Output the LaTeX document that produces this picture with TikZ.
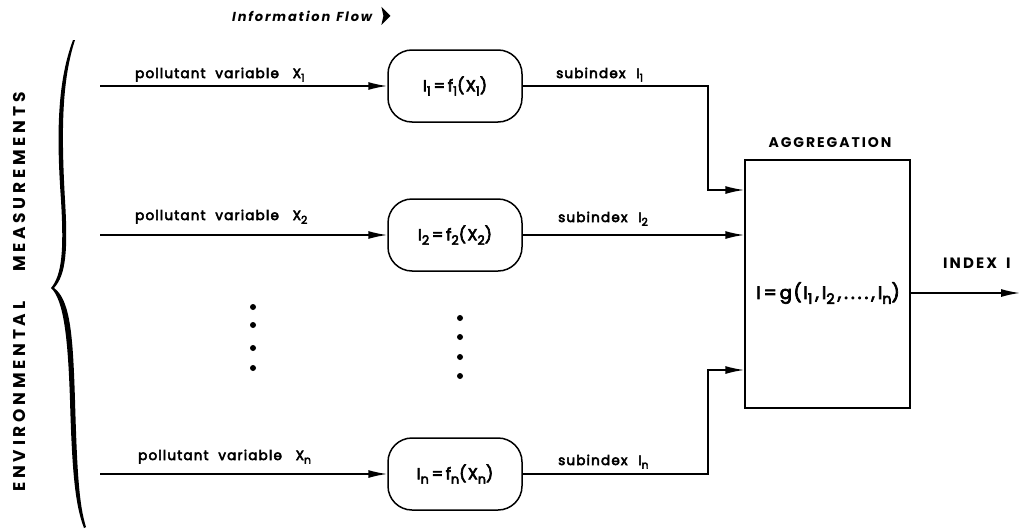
\documentclass[tikz,border=0pt]{standalone}
\usepackage{fontspec}
\setmainfont{Poppins}
\newfontfamily\lett[LetterSpace=9,FakeBold=4]{Poppins}
\newfontfamily\capsfont[LetterSpace=14]{Poppins}
\usetikzlibrary{arrows.meta}
% lowered, reduced index
\newcommand\lo[1]{\raisebox{-0.5ex}{\scalebox{0.8}{#1}}}
\begin{document}
\begin{tikzpicture}[x=1pt,y=-1pt,
  flow/.style={line width=1.5pt,-{Latex[length=19pt,width=8pt]}},
  fbox/.style={draw,line width=1.5pt,rounded corners=24pt,minimum width=134pt,minimum height=72pt,inner sep=0pt,font=\lett\fontsize{16}{18}\selectfont},
  lbl/.style={inner sep=0pt,font=\lett\fontsize{13.5}{15}\selectfont},
  captext/.style={inner sep=0pt,font=\capsfont\bfseries\fontsize{14}{16}\selectfont},
  dot/.style={circle,fill,inner sep=0pt,minimum size=6pt}]
\useasboundingbox (0,0) rectangle (1020,530);

% title
\node[inner sep=0pt,anchor=base west,font=\capsfont\itshape\bfseries\fontsize{13}{15}\selectfont] (title) at (232,21) {Information\hspace{6pt}Flow};
\fill ([xshift=9pt]title.east) ++(0,-9) -- ++(9,9) -- ++(-9,9) -- ++(2,-9) -- cycle;

% side brace and caption
\fill (73,40) .. controls (58,80) and (56,130) .. (61,200)
  .. controls (64,250) and (62,275) .. (51,288)
  .. controls (64,300) and (68,340) .. (70,400)
  .. controls (72,470) and (75,505) .. (84,528)
  -- (86,527) .. controls (79,505) and (77,470) .. (75,400)
  .. controls (73,340) and (71,300) .. (54,288)
  .. controls (66,275) and (68,250) .. (65,200)
  .. controls (61,130) and (62,80) .. (75,40) -- cycle;
\node[inner sep=0pt,font=\capsfont\bfseries\fontsize{17}{19}\selectfont,rotate=90] (env) at (20,292)
  {\addfontfeature{LetterSpace=22}ENVIRONMENTAL\hspace{30pt}MEASUREMENTS};

% subindex functions
\node[fbox] (f1) at (455,86) {I\lo{1}\,=\,f\lo{1}(X\lo{1})};
\node[fbox] (f2) at (455,235) {I\lo{2}\,=\,f\lo{2}(X\lo{2})};
\node[fbox] (fn) at (455,474) {I\lo{n}\,=\,f\lo{n}(X\lo{n})};

% aggregation block
\node[draw,line width=1.5pt,minimum width=165pt,minimum height=248pt,inner sep=0pt] (agg) at (827.5,284) {};
\node[inner sep=0pt,font=\lett\fontsize{18}{20}\selectfont] (g) at (828,293) {I\,=\,g(I\lo{1}\,,\,I\lo{2}\,,\,.\,.\,.\,.\,,\,I\lo{n})};
\node[captext] (aggt) at (830,143) {AGGREGATION};

% inputs
\coordinate (x1) at (100,86);
\coordinate (x2) at (100,235);
\coordinate (xn) at (100,474);
\draw[flow] (x1) -- (f1.west);
\draw[flow] (x2) -- (f2.west);
\draw[flow] (xn) -- (fn.west);
\node[lbl,anchor=base west] (l1) at (135,78) {pollutant\hspace{5pt} variable\hspace{9pt} X\lo{1}};
\node[lbl,anchor=base west] (l2) at (135,220) {pollutant\hspace{5pt} variable\hspace{9pt} X\lo{2}};
\node[lbl,anchor=base west] (ln) at (138,460) {pollutant\hspace{5pt} variable\hspace{9pt} X\lo{n}};

% subindices into the aggregation
\coordinate (k1) at (708,190);
\coordinate (kn) at (708,370);
\draw[flow] (f1.east) -| (k1) -- (k1 -| agg.west);
\draw[flow] (f2.east) -- (f2.east -| agg.west);
\draw[flow] (fn.east) -| (kn) -- (kn -| agg.west);
\node[lbl,anchor=base west] (s1) at (556,78) {subindex\hspace{6pt} I\lo{1}};
\node[lbl,anchor=base west] (s2) at (558,222) {subindex\hspace{6pt} I\lo{2}};
\node[lbl,anchor=base west] (sn) at (558,465) {subindex\hspace{6pt} I\lo{n}};

% output
\coordinate (out) at (1020,293);
\draw[flow] (agg.east |- out) -- (out);
\node[inner sep=0pt,anchor=base west,font=\capsfont\bfseries\fontsize{15}{17}\selectfont] (idx) at (943,268) {INDEX\hspace{9pt}I};

% omitted rows
\foreach \y [count=\i] in {307,325,348,368} \node[dot] (da\i) at (253,\y) {};
\foreach \y [count=\i] in {318,337,357,376} \node[dot] (db\i) at (460,\y) {};
\end{tikzpicture}
\end{document}
